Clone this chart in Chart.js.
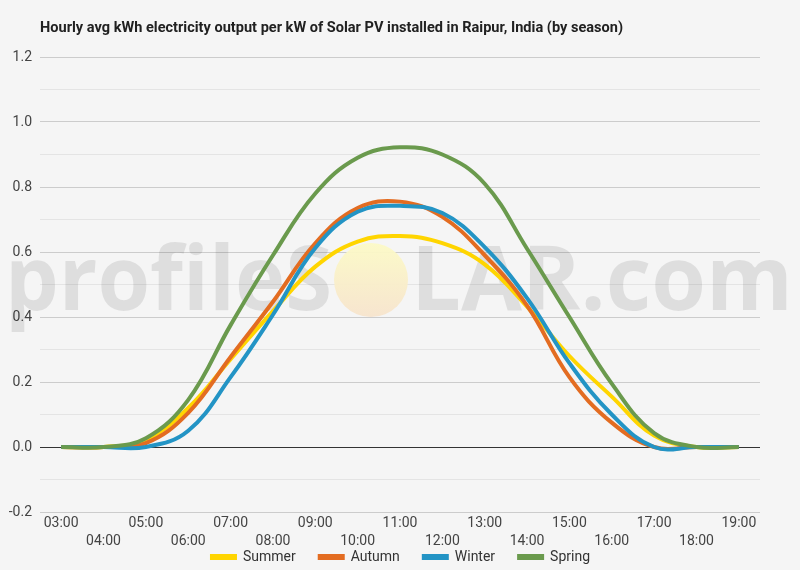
<!DOCTYPE html>
<html>
<head>
<meta charset="utf-8">
<script src="https://cdn.jsdelivr.net/npm/chart.js@4.4.0/dist/chart.umd.min.js"></script>
<style>
  html, body { margin: 0; padding: 0; background: #f5f5f5; }
  #contenitore { width: 800px; height: 570px; }
</style>
</head>
<body>
<div id="contenitore"><canvas id="grafico" width="800" height="570"></canvas></div>
<script>
var titolo = 'Hourly avg kWh electricity output per kW of Solar PV installed in Raipur, India (by season)';

var ore = ['03:00', '04:00', '05:00', '06:00', '07:00', '08:00', '09:00', '10:00', '11:00',
           '12:00', '13:00', '14:00', '15:00', '16:00', '17:00', '18:00', '19:00'];

var summer = [0, 0, 0.022, 0.12, 0.27, 0.418, 0.555, 0.632, 0.649, 0.627, 0.562, 0.432, 0.28, 0.155, 0.035, 0, 0];
var autumn = [0, 0, 0.012, 0.105, 0.277, 0.447, 0.627, 0.735, 0.755, 0.708, 0.59, 0.435, 0.215, 0.075, 0, 0, 0];
var winter = [0, 0, 0, 0.05, 0.215, 0.407, 0.612, 0.724, 0.742, 0.72, 0.615, 0.458, 0.258, 0.1, 0, 0, 0];
var spring = [0, 0, 0.027, 0.145, 0.375, 0.59, 0.78, 0.89, 0.922, 0.9, 0.81, 0.61, 0.4, 0.195, 0.043, 0, 0];

var yMin = -0.2;
var yMax = 1.2;

// sfondo grigio chiaro
var sfondo = {
  id: 'sfondo',
  beforeDraw: function(chart) {
    var ctx = chart.ctx;
    ctx.save();
    ctx.fillStyle = '#f5f5f5';
    ctx.fillRect(0, 0, chart.width, chart.height);
    ctx.restore();
  }
};

function scriviLarghezza(ctx, testo, x, y, larghezza) {
  var w = ctx.measureText(testo).width;
  ctx.save();
  ctx.translate(x, y);
  ctx.scale(larghezza / w, 1);
  ctx.fillText(testo, 0, 0);
  ctx.restore();
}

// filigrana profileSOLAR.com
var filigrana = {
  id: 'filigrana',
  beforeDatasetsDraw: function(chart) {
    var ctx = chart.ctx;
    ctx.save();
    ctx.font = 'bold 90px "Open Sans"';
    ctx.fillStyle = 'rgba(0,0,0,0.09)';
    ctx.textBaseline = 'alphabetic';
    scriviLarghezza(ctx, 'profileS', 5, 310, 327);
    scriviLarghezza(ctx, 'LAR.com', 411, 310, 382);
    var g = ctx.createLinearGradient(0, 243, 0, 317);
    g.addColorStop(0, 'rgba(252,250,198,0.95)');
    g.addColorStop(1, 'rgba(247,228,205,0.95)');
    ctx.fillStyle = g;
    ctx.beginPath();
    ctx.arc(371, 280, 37, 0, Math.PI * 2);
    ctx.fill();
    ctx.restore();
  }
};

// titolo in alto a sinistra
var intestazione = {
  id: 'intestazione',
  afterDraw: function(chart) {
    var ctx = chart.ctx;
    ctx.save();
    ctx.font = 'bold 15px Roboto';
    ctx.fillStyle = '#212121';
    ctx.textBaseline = 'middle';
    scriviLarghezza(ctx, titolo, 40, 28, 583);
    ctx.restore();
  }
};

// legenda in basso, centrata
var legenda = {
  id: 'legenda',
  afterDraw: function(chart) {
    var ctx = chart.ctx;
    var sets = chart.data.datasets;
    var box = 27, gap = 6, spazio = 22, y = 557;
    ctx.save();
    ctx.font = '14px Roboto';
    ctx.textBaseline = 'middle';
    var tot = 0;
    sets.forEach(function(d, i) {
      tot += box + gap + ctx.measureText(d.label).width + (i < sets.length - 1 ? spazio : 0);
    });
    var x = (chart.width - tot) / 2;
    sets.forEach(function(d) {
      ctx.fillStyle = d.borderColor;
      ctx.fillRect(x, y - 3, box, 6);
      x += box + gap;
      ctx.fillStyle = '#333';
      ctx.fillText(d.label, x, y);
      x += ctx.measureText(d.label).width + spazio;
    });
    ctx.restore();
  }
};

function serie(label, dati, colore, ordine) {
  return {
    label: label,
    data: dati,
    borderColor: colore,
    backgroundColor: colore,
    borderWidth: 4,
    pointRadius: 0,
    tension: 0.4,
    fill: false,
    order: ordine
  };
}

var chart = new Chart(document.getElementById('grafico'), {
  type: 'line',
  data: {
    labels: ore,
    datasets: [
      serie('Summer', summer, '#FFD500', 4),
      serie('Autumn', autumn, '#E36C21', 3),
      serie('Winter', winter, '#2394C5', 2),
      serie('Spring', spring, '#6A9A4D', 1)
    ]
  },
  options: {
    responsive: false,
    animation: false,
    layout: { padding: { top: 57, right: 40, left: 0, bottom: 22 } },
    plugins: {
      title: { display: false },
      tooltip: { enabled: false },
      legend: { display: false }
    },
    scales: {
      x: {
        offset: true,
        grid: { display: false, drawTicks: false },
        border: { display: false },
        afterFit: function(scale) { scale.height = 36; },
        ticks: {
          autoSkip: false,
          maxRotation: 0,
          padding: 2,
          color: '#444',
          font: { family: 'Roboto', size: 14, lineHeight: 1.3 },
          callback: function(value, index) {
            var l = ore[index];
            return index % 2 === 1 ? ['', l] : l;
          }
        }
      },
      y: {
        min: yMin,
        max: yMax,
        afterFit: function(scale) { scale.width = 40; },
        grid: {
          drawTicks: false,
          color: function(c) {
            var v = Math.round(c.tick.value * 10);
            if (v === 0) return '#333333';
            return (Math.abs(v) % 2 === 0) ? '#cccccc' : '#e4e4e4';
          }
        },
        border: { display: false },
        ticks: {
          stepSize: 0.1,
          padding: 8,
          color: '#444',
          font: { family: 'Roboto', size: 14 },
          callback: function(value) {
            var v = Math.round(value * 10);
            return (Math.abs(v) % 2 === 0) ? (v / 10).toFixed(1) : '';
          }
        }
      }
    }
  },
  plugins: [sfondo, filigrana, intestazione, legenda]
});
</script>
</body>
</html>
